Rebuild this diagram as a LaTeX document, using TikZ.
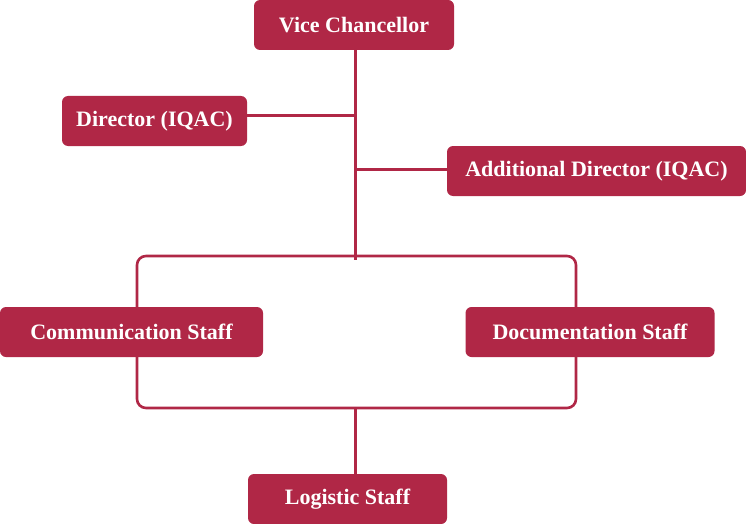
\documentclass[tikz,border=0pt]{standalone}
\usepackage{fontspec}
\setmainfont{Liberation Serif}
\usetikzlibrary{backgrounds}
\definecolor{maroon}{HTML}{B02746}
\begin{document}
\begin{tikzpicture}[x=1pt,y=1pt,
  box/.style={fill=maroon,text=white,rounded corners=6pt,minimum height=50pt,inner sep=0pt,font=\bfseries\fontsize{22}{26}\selectfont},
  link/.style={draw=maroon,line width=3pt}]
\useasboundingbox (0,0) rectangle (746,-524);
\node[box,minimum width=200pt] (vc) at (354,-25) {Vice Chancellor};
\node[box,minimum width=185pt] (dir) at (154.5,-121) {Director (IQAC)};
\node[box,minimum width=299pt] (add) at (596.5,-171) {Additional Director (IQAC)};
\node[box,minimum width=263pt] (com) at (131.5,-332) {Communication Staff};
\node[box,minimum width=249pt] (doc) at (590,-332) {Documentation Staff};
\node[box,minimum width=199pt] (log) at (347.5,-499) {Logistic Staff};
\coordinate (spinetop) at (355,-51);
\coordinate (spinebot) at (355,-260);
\coordinate (jdir) at (355,-116);
\coordinate (jadd) at (355,-169);
\coordinate (rtl) at (137,-256);
\coordinate (rbr) at (576,-408);
\coordinate (rbm) at (355,-408);
\begin{scope}[on background layer]
\draw[link] (vc.south -| spinetop) -- (spinebot);
\draw[link] (jdir) -- (jdir -| dir.east);
\draw[link] (jadd) -- (jadd -| add.west);
\draw[link,line width=2.6pt,rounded corners=9pt] (rtl) rectangle (rbr);
\draw[link] (rbm) -- (rbm |- log.north);
\end{scope}
\end{tikzpicture}
\end{document}
